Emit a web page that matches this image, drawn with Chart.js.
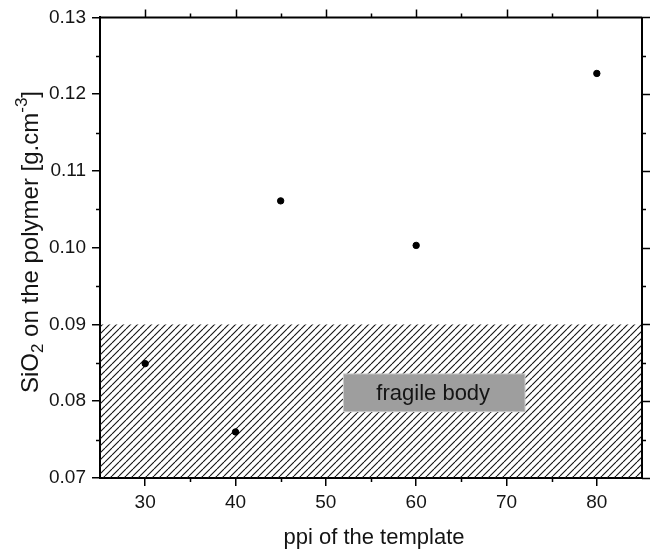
<!DOCTYPE html>
<html>
<head>
<meta charset="utf-8">
<script src="https://cdn.jsdelivr.net/npm/chart.js@4"></script>
<style>
  html, body { margin: 0; padding: 0; background: #fff; }
  #wrap { width: 655px; height: 553px; position: relative; }
</style>
</head>
<body>
<div id="wrap"><canvas id="myChart"></canvas></div>
<script>
// measured points
const ppi = [30, 40, 45, 60, 80];
const sio2 = [0.0849, 0.0760, 0.1061, 0.1003, 0.1227];

// axis ticks
const xTicks = [30, 40, 50, 60, 70, 80];
const xMinor = [35, 45, 55, 65, 75];
const yTicks = [0.07, 0.08, 0.09, 0.10, 0.11, 0.12, 0.13];
const yMinor = [0.075, 0.085, 0.095, 0.105, 0.115, 0.125];

// hatched "fragile" zone and its label box
const fragileX = [25, 85];
const fragileTop = 0.09;
const labelBoxX = [52, 72];
const labelBoxY = [0.0787, 0.0835];
const labelText = 'fragile body';

const FONT = 'Arial, "Liberation Sans", sans-serif';

function hatchPattern() {
  const s = 7;
  const c = document.createElement('canvas');
  c.width = s; c.height = s;
  const g = c.getContext('2d');
  g.strokeStyle = '#111';
  g.lineWidth = 1.1;
  for (let o = -s; o <= s; o += s) {
    g.beginPath();
    g.moveTo(o, s);
    g.lineTo(o + s, 0);
    g.stroke();
  }
  return g.createPattern(c, 'repeat');
}

// frame, top/right ticks, minor ticks, titles, label box
const decor = {
  id: 'decor',
  afterDatasetsDraw(chart) {
    const { ctx, scales: { x, y } } = chart;
    const x0 = x.getPixelForValue(labelBoxX[0]), x1 = x.getPixelForValue(labelBoxX[1]);
    const y0 = y.getPixelForValue(labelBoxY[1]), y1 = y.getPixelForValue(labelBoxY[0]);
    ctx.save();
    ctx.fillStyle = '#d0d0d0';
    ctx.fillRect(x0 - 1, y0 - 1, x1 - x0 + 2, y1 - y0 + 2);
    ctx.fillStyle = '#9e9e9e';
    ctx.fillRect(x0, y0, x1 - x0, y1 - y0);
    ctx.fillStyle = '#141414';
    ctx.font = '22px ' + FONT;
    ctx.textAlign = 'center';
    ctx.textBaseline = 'middle';
    ctx.fillText(labelText, (x0 + x1) / 2 - 1, (y0 + y1) / 2 + 1);
    ctx.restore();
  },
  afterDraw(chart) {
    const { ctx, chartArea: a, scales: { x, y } } = chart;
    ctx.save();
    ctx.strokeStyle = '#000';
    ctx.lineWidth = 2;
    ctx.beginPath();
    ctx.moveTo(a.left, a.top); ctx.lineTo(a.right, a.top);
    ctx.moveTo(a.right, a.top); ctx.lineTo(a.right, a.bottom);
    ctx.stroke();
    ctx.lineWidth = 1.5;
    ctx.beginPath();
    xTicks.forEach(v => {
      const px = Math.round(x.getPixelForValue(v)) + 0.5;
      ctx.moveTo(px, a.top); ctx.lineTo(px, a.top - 8);
    });
    yTicks.forEach(v => {
      const py = Math.round(y.getPixelForValue(v)) + 0.5;
      ctx.moveTo(a.right, py); ctx.lineTo(a.right + 8, py);
    });
    xMinor.forEach(v => {
      const px = Math.round(x.getPixelForValue(v)) + 0.5;
      ctx.moveTo(px, a.top); ctx.lineTo(px, a.top - 4);
      ctx.moveTo(px, a.bottom); ctx.lineTo(px, a.bottom + 4);
    });
    yMinor.forEach(v => {
      const py = Math.round(y.getPixelForValue(v)) + 0.5;
      ctx.moveTo(a.left, py); ctx.lineTo(a.left - 4, py);
      ctx.moveTo(a.right, py); ctx.lineTo(a.right + 4, py);
    });
    ctx.stroke();

    // x title
    ctx.fillStyle = '#141414';
    ctx.font = '22px ' + FONT;
    ctx.textAlign = 'center';
    ctx.textBaseline = 'alphabetic';
    ctx.fillText('ppi of the template', (a.left + a.right) / 2 + 3, 544);

    // y title with subscript / superscript
    const parts = [
      { t: 'SiO', f: 24, dy: 0 },
      { t: '2', f: 17, dy: 5 },
      { t: ' on the polymer [g.cm', f: 24, dy: 0 },
      { t: '-3', f: 17, dy: -11 },
      { t: ']', f: 24, dy: 0 }
    ];
    let w = 0;
    parts.forEach(p => { ctx.font = p.f + 'px ' + FONT; p.w = ctx.measureText(p.t).width; w += p.w; });
    ctx.translate(38, 242);
    ctx.rotate(-Math.PI / 2);
    ctx.textAlign = 'left';
    let cx = -w / 2;
    parts.forEach(p => {
      ctx.font = p.f + 'px ' + FONT;
      ctx.fillText(p.t, cx, p.dy);
      cx += p.w;
    });
    ctx.restore();
  }
};

const ctx = document.getElementById('myChart');

new Chart(ctx, {
  type: 'scatter',
  data: {
    datasets: [{
      label: 'SiO2',
      data: ppi.map((v, i) => ({ x: v, y: sio2[i] })),
      backgroundColor: '#000',
      borderColor: '#000',
      pointRadius: 3.2,
      order: 0
    }, {
      type: 'line',
      label: 'fragile',
      data: fragileX.map(v => ({ x: v, y: fragileTop })),
      borderWidth: 0,
      pointRadius: 0,
      fill: 'start',
      backgroundColor: hatchPattern(),
      order: 2
    }]
  },
  options: {
    responsive: true,
    maintainAspectRatio: false,
    animation: false,
    layout: { padding: { top: 15, right: 13, left: 0, bottom: 0 } },
    plugins: {
      legend: { display: false },
      tooltip: { enabled: false }
    },
    scales: {
      x: {
        type: 'linear',
        min: 25,
        max: 85,
        afterBuildTicks: s => { s.ticks = xTicks.map(v => ({ value: v })); },
        afterFit: s => { s.height = 75; },
        ticks: { color: '#141414', font: { size: 19, family: FONT }, padding: 5 },
        grid: { drawOnChartArea: false, color: '#000', lineWidth: 1.5, tickLength: 8 },
        border: { color: '#000', width: 2 }
      },
      y: {
        min: 0.07,
        max: 0.13,
        afterBuildTicks: s => { s.ticks = yTicks.map(v => ({ value: v })); },
        afterFit: s => { s.width = 100; },
        ticks: {
          color: '#141414',
          font: { size: 19, family: FONT },
          padding: 6,
          callback: v => v.toFixed(2)
        },
        grid: { drawOnChartArea: false, color: '#000', lineWidth: 1.5, tickLength: 8 },
        border: { color: '#000', width: 2 }
      }
    }
  },
  plugins: [decor]
});
</script>
</body>
</html>
